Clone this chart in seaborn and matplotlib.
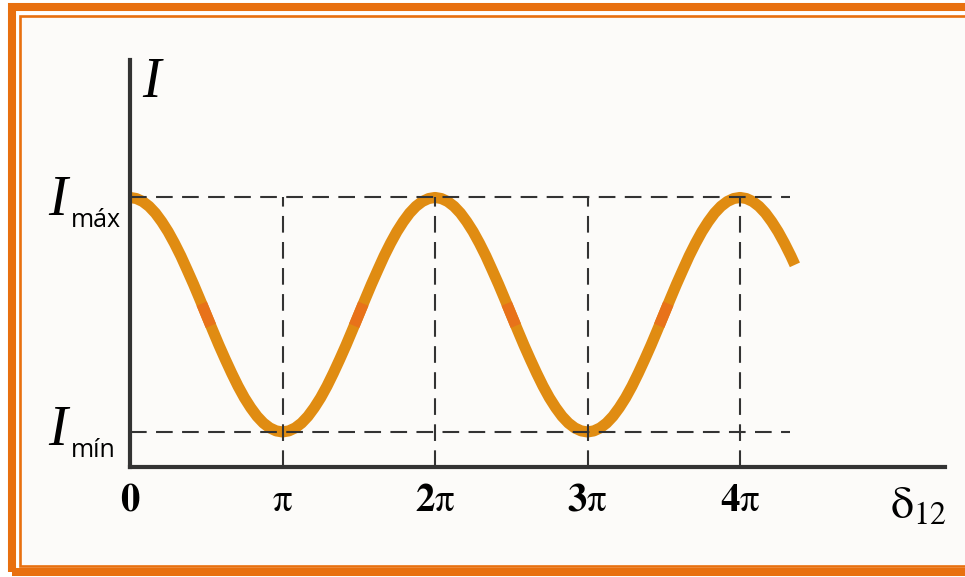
"""
Interference intensity vs. phase difference (two-beam interference)
"""

import numpy as np
import matplotlib
matplotlib.use("Agg")
import matplotlib.pyplot as plt
import seaborn as sns
from matplotlib.patches import Rectangle

# ============================================================================
# DATA (delta in units of pi, intensity in arbitrary units)
# ============================================================================

delta = list(np.arange(105) / 24) + [4.36]
intensity = [
    # 0 .. 2pi
    1.000, 0.996, 0.985, 0.967, 0.942, 0.910, 0.873, 0.830, 0.783, 0.731, 0.678, 0.622,
    0.565, 0.508, 0.452, 0.399, 0.348, 0.300, 0.257, 0.220, 0.188, 0.163, 0.145, 0.134,
    0.130, 0.134, 0.145, 0.163, 0.188, 0.220, 0.257, 0.300, 0.348, 0.399, 0.452, 0.508,
    0.565, 0.622, 0.678, 0.731, 0.783, 0.830, 0.873, 0.910, 0.942, 0.967, 0.985, 0.996,
    # 2pi .. 4pi
    1.000, 0.996, 0.985, 0.967, 0.942, 0.910, 0.873, 0.830, 0.783, 0.731, 0.678, 0.622,
    0.565, 0.508, 0.452, 0.399, 0.348, 0.300, 0.257, 0.220, 0.188, 0.163, 0.145, 0.134,
    0.130, 0.134, 0.145, 0.163, 0.188, 0.220, 0.257, 0.300, 0.348, 0.399, 0.452, 0.508,
    0.565, 0.622, 0.678, 0.731, 0.783, 0.830, 0.873, 0.910, 0.942, 0.967, 0.985, 0.996,
    # 4pi .. end
    1.000, 0.996, 0.985, 0.967, 0.942, 0.910, 0.873, 0.830, 0.783, 0.750,
]

I_max = 1.0
I_min = 0.13
guide_end = 4.33

tick_pos = [0, 1, 2, 3, 4]
tick_labels = [r"$\mathbf{0}$", r"$\mathrm{\pi}$", r"$\mathbf{2}\mathrm{\pi}$",
               r"$\mathbf{3}\mathrm{\pi}$", r"$\mathbf{4}\mathrm{\pi}$"]
accent_centres = [0.5, 1.5, 2.5, 3.5]

# ============================================================================
# STYLE
# ============================================================================

sns.set_theme(style="white")
plt.rcParams["mathtext.fontset"] = "stix"
plt.rcParams["font.family"] = ["DejaVu Sans"]

W, H = 965, 577
CURVE = "#E08C12"
ACCENT = "#E8721A"
FRAME = "#E8700F"
INK = "#333333"

fig = plt.figure(figsize=(W / 100, H / 100), dpi=100, facecolor="white")

# frame: thick outer line, thin inner line, off-white panel
fig.patches.append(Rectangle((19.5 / W, 1 - 566 / H), 1.1, (566 - 15.5) / H,
                             transform=fig.transFigure, facecolor="#FCFBF9",
                             edgecolor=FRAME, lw=1.9, zorder=-10))
fig.patches.append(Rectangle((12 / W, 1 - 572 / H), 1.1, (572 - 7) / H,
                             transform=fig.transFigure, facecolor="none",
                             edgecolor=FRAME, lw=5.8, zorder=-10))

ax = fig.add_axes([130 / W, (H - 467) / H, 815 / W, 407 / H])
ax.set_facecolor("none")
ax.set_zorder(5)

# ============================================================================
# CURVE
# ============================================================================

sns.lineplot(x=delta, y=intensity, ax=ax, color=CURVE, lw=8, zorder=2,
             solid_capstyle="butt", solid_joinstyle="round")

for c in accent_centres:
    xs = np.linspace(c - 0.03, c + 0.03, 5)
    ys = np.interp(xs, delta, intensity)
    ax.plot(xs, ys, color=ACCENT, lw=8, solid_capstyle="butt", zorder=2.5)

# guide lines
dash = (0, (8, 4.5))
ax.hlines([I_max, I_min], 0, guide_end, colors=INK, lw=1.5, linestyles=[dash], zorder=3)
ax.vlines(tick_pos[1:], 0, I_max, colors=INK, lw=1.5, linestyles=[dash], zorder=3)

# ============================================================================
# AXES
# ============================================================================

ax.set_xlim(0, 815 / 152.5)
ax.set_ylim(0, 1.51)
sns.despine(ax=ax)
for side in ["left", "bottom"]:
    ax.spines[side].set_color(INK)
    ax.spines[side].set_linewidth(3)
    ax.spines[side].set_capstyle("projecting")

ax.set_xticks(tick_pos, tick_labels, fontsize=28)
ax.tick_params(axis="x", length=0, pad=10, colors="black")
ax.set_yticks([])
ax.set_xlabel("")
ax.set_ylabel("")

# axis names and level labels
fig.text(142 / W, 1 - 97 / H, "I", family="Liberation Serif", style="italic",
         fontsize=40, color="black", va="baseline")
fig.text(918 / W, 1 - 518 / H, r"$\mathrm{\delta}_{12}$", fontsize=33, color="black",
         ha="center", va="baseline")

for label, base in [("máx", 227), ("mín", 457)]:
    fig.text(48 / W, 1 - (base - 12) / H, "I", family="Liberation Serif",
             style="italic", fontsize=41, color="black", va="baseline")
    fig.text(71 / W, 1 - base / H, label, family="Open Sans", fontsize=18,
             color="black", va="baseline")

plt.savefig("out.png", dpi=100, facecolor=fig.get_facecolor())
